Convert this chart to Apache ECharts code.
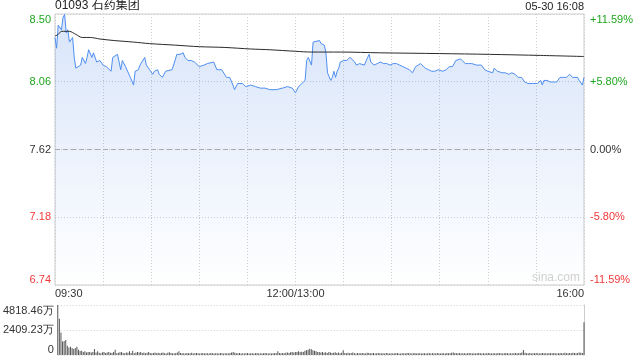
<!DOCTYPE html>
<html>
<head>
<meta charset="utf-8">
<script src="https://cdn.jsdelivr.net/npm/echarts@6/dist/echarts.min.js"></script>
<style>html,body{margin:0;padding:0;background:#fff;}#c{width:640px;height:360px;}</style>
</head>
<body>
<div id="c"></div>
<script>
// ---- data ----
var stockName = '01093 石药集团';
var stampText = '05-30 16:08';
var prevClose = 7.62;
var priceTicks = [6.737, 7.178, 7.62, 8.062, 8.503];
var pctTicks = [-11.59, -5.80, 0, 5.80, 11.59];
var timeLabels = {0: '09:30', 150: '12:00/13:00', 330: '16:00'};
// minute offsets from 09:30 (trading minutes) and prices
var priceMinutes = [0,1,2,4,5,6,7,8,9,11,12,13,16,17,19,20,21,23,24,26,28,30,32,35,36,39,40,41,42,44,47,49,50,52,53,56,57,59,61,62,64,65,67,69,70,73,74,76,78,80,81,83,85,87,90,93,95,99,101,104,107,109,111,112,114,117,119,122,125,128,131,134,138,142,145,148,150,152,154,156,157,158,160,161,162,165,166,167,168,169,170,171,172,173,174,175,176,177,178,180,182,184,187,188,190,193,195,196,197,199,201,203,205,207,209,211,213,215,217,219,221,223,225,226,228,231,233,235,237,239,240,242,244,246,248,250,253,254,256,258,260,261,263,266,268,270,273,274,276,279,281,283,285,287,289,291,293,295,298,299,301,303,304,305,307,309,311,313,315,317,319,321,323,326,327,329,330];
var prices = [8.35,8.28,8.43,8.40,8.48,8.50,8.38,8.40,8.32,8.35,8.22,8.15,8.17,8.22,8.18,8.22,8.27,8.22,8.25,8.19,8.20,8.17,8.16,8.13,8.22,8.24,8.24,8.14,8.20,8.16,8.09,8.04,8.13,8.14,8.17,8.22,8.17,8.14,8.11,8.13,8.14,8.11,8.09,8.13,8.13,8.14,8.17,8.24,8.24,8.25,8.22,8.20,8.20,8.19,8.16,8.17,8.18,8.19,8.14,8.14,8.09,8.09,8.04,8.01,8.05,8.05,8.03,8.04,8.03,8.02,8.02,8.01,8.01,8.02,8.03,8.02,7.99,8.03,8.05,8.07,8.20,8.22,8.17,8.32,8.31,8.33,8.31,8.32,8.30,8.25,8.12,8.11,8.07,8.09,8.13,8.09,8.13,8.15,8.19,8.20,8.20,8.22,8.19,8.17,8.18,8.17,8.22,8.24,8.19,8.17,8.18,8.19,8.18,8.18,8.17,8.18,8.18,8.17,8.16,8.15,8.14,8.12,8.16,8.16,8.18,8.15,8.14,8.13,8.13,8.14,8.15,8.13,8.14,8.16,8.16,8.20,8.21,8.22,8.18,8.18,8.18,8.18,8.17,8.17,8.14,8.13,8.12,8.15,8.13,8.12,8.12,8.11,8.12,8.11,8.09,8.09,8.06,8.05,8.05,8.05,8.05,8.07,8.04,8.07,8.07,8.06,8.06,8.06,8.09,8.09,8.09,8.11,8.09,8.09,8.07,8.04,8.09];
var avgMinutes = [0,2,4,7,9,13,17,22,28,37,49,59,75,90,106,122,134,150,160,178,203,240,271,303,330];
var avgPrices = [8.36,8.37,8.39,8.39,8.39,8.37,8.35,8.35,8.34,8.33,8.32,8.31,8.30,8.29,8.285,8.275,8.27,8.26,8.255,8.255,8.25,8.245,8.24,8.233,8.226];
var volumeTicks = [0, 2409.23, 4818.46];
// volume per minute (万), minute 0..330
var volumes = [
4818,3500,2170,1300,1350,1450,880,720,800,680,580,680,800,500,390,420,300,350,250,300,
280,230,300,580,250,350,220,180,260,300,200,250,300,220,200,300,500,180,220,260,
300,200,180,250,220,350,200,400,160,240,300,250,300,200,250,180,220,300,200,160,
200,250,180,220,160,200,240,180,150,220,260,200,180,150,200,240,350,200,180,160,
150,200,180,160,220,140,180,200,160,150,180,200,140,160,180,150,200,160,140,180,
160,150,200,180,140,160,180,150,200,250,300,220,180,160,200,150,180,140,160,200,
150,180,160,140,180,200,150,160,140,180,200,160,150,180,140,160,200,180,350,200,
160,200,180,220,250,200,260,300,250,280,
300,350,280,320,300,400,450,500,600,550,450,400,350,300,280,250,300,220,260,200,
300,250,200,220,260,200,240,180,220,450,200,180,220,160,200,240,180,150,200,180,
160,200,180,150,220,200,180,160,200,150,180,200,160,140,180,150,200,160,140,180,
150,180,160,200,150,140,180,160,150,200,180,160,140,180,200,150,160,180,140,160,
180,150,160,200,140,160,180,150,200,160,140,180,160,150,200,180,160,220,250,200,
180,160,200,150,180,160,140,180,200,160,150,180,140,160,200,180,150,160,140,180,
200,160,150,180,160,140,200,180,160,150,180,200,160,140,180,150,160,200,180,160,
200,250,480,220,180,160,200,150,180,160,200,180,150,160,200,180,160,150,200,180,
160,200,180,150,160,200,180,160,220,180,160,200,180,220,200,180,200,250,220,200,
3150];

// ---- build ----
var GREEN = '#1ea61e', RED = '#f03a3a', DARK = '#333';
var FONT = 'Liberation Sans, Arial, sans-serif';
var pricePairs = priceMinutes.map(function (m, i) { return [m, prices[i]]; });
var avgPairs = avgMinutes.map(function (m, i) { return [m, avgPrices[i]]; });
var volPairs = volumes.map(function (v, i) { return [i, v]; });

var chart = echarts.init(document.getElementById('c'), null, {renderer: 'canvas'});
var dotted = {show: true, lineStyle: {color: '#cfcfcf', type: [1, 2], width: 1}};
chart.setOption({
  animation: false,
  backgroundColor: '#fff',
  textStyle: {fontFamily: FONT},
  grid: [
    {left: 55, right: 56, top: 14, height: 271, show: true, borderColor: '#cccccc', borderWidth: 1, backgroundColor: 'transparent'},
    {left: 55, right: 56, top: 305, height: 50}
  ],
  xAxis: [
    {gridIndex: 0, type: 'value', min: 0, max: 330, interval: 30,
     axisLine: {show: false}, axisTick: {show: false},
     splitLine: dotted,
     axisLabel: {show: true, margin: 3, fontSize: 11, color: DARK, fontFamily: FONT,
       showMinLabel: true, showMaxLabel: true, alignMinLabel: 'left', alignMaxLabel: 'right',
       formatter: function (v) { return timeLabels[v] || ''; }}},
    {gridIndex: 1, type: 'value', min: 0, max: 330, show: true,
     axisLine: {show: false}, axisTick: {show: false}, axisLabel: {show: false}, splitLine: {show: false}}
  ],
  yAxis: [
    {gridIndex: 0, type: 'value', min: priceTicks[0], max: priceTicks[4], position: 'left',
     axisLine: {show: false}, axisTick: {show: false, customValues: priceTicks},
     splitLine: dotted,
     axisLabel: {customValues: priceTicks, margin: 4, fontSize: 11, fontFamily: FONT,
       verticalAlignMaxLabel: 'top', verticalAlignMinLabel: 'bottom',
       formatter: function (v) { return v.toFixed(2); },
       color: function (v) { v = +v; return v > prevClose + 0.005 ? GREEN : (v < prevClose - 0.005 ? RED : DARK); }}},
    {gridIndex: 0, type: 'value', min: pctTicks[0], max: pctTicks[4], position: 'right',
     axisLine: {show: false}, axisTick: {show: false, customValues: pctTicks}, splitLine: {show: false},
     axisLabel: {customValues: pctTicks, margin: 6, fontSize: 11, fontFamily: FONT,
       verticalAlignMaxLabel: 'top', verticalAlignMinLabel: 'bottom',
       formatter: function (v) { return (v > 0 ? '+' : '') + v.toFixed(2) + '%'; },
       color: function (v) { v = +v; return v > 0.001 ? GREEN : (v < -0.001 ? RED : DARK); }}},
    {gridIndex: 1, type: 'value', min: 0, max: volumeTicks[2], position: 'left',
     axisLine: {show: false}, axisTick: {show: false, customValues: volumeTicks},
     splitLine: dotted,
     axisLabel: {customValues: volumeTicks, margin: 4, fontSize: 11, color: DARK, fontFamily: FONT,
       verticalAlignMaxLabel: 'top', verticalAlignMinLabel: 'bottom',
       formatter: function (v) { return v === 0 ? '0' : v.toFixed(2) + '万'; }}},
    {gridIndex: 1, type: 'value', min: 0, max: volumeTicks[2], position: 'right',
     axisLine: {show: true, lineStyle: {color: '#cccccc'}}, axisTick: {show: false}, axisLabel: {show: false}, splitLine: {show: false}}
  ],
  series: [
    {type: 'line', xAxisIndex: 0, yAxisIndex: 0, data: pricePairs, showSymbol: false, symbol: 'none',
     lineStyle: {color: '#4f8ef0', width: 1}, z: 3,
     areaStyle: {origin: 'start', opacity: 1, color: new echarts.graphic.LinearGradient(0, 0, 0, 1, [
       {offset: 0, color: 'rgba(70,130,230,0.21)'}, {offset: 1, color: 'rgba(70,130,230,0.0)'}])},
     markLine: {silent: true, symbol: 'none', label: {show: false},
       lineStyle: {color: '#aaaaaa', type: [5, 3], width: 1},
       data: [{yAxis: prevClose}]}},
    {type: 'line', xAxisIndex: 0, yAxisIndex: 0, data: avgPairs, showSymbol: false, symbol: 'none', smooth: 0.3,
     lineStyle: {color: '#2a2a2a', width: 1}, z: 4},
    {type: 'bar', xAxisIndex: 1, yAxisIndex: 2, data: volPairs, barWidth: 1,
     itemStyle: {color: '#555555'}}
  ],
  graphic: [
    {type: 'text', left: 55, top: 0, style: {text: stockName, fontSize: 12, fill: '#222', fontFamily: 'Liberation Sans, Noto Sans CJK SC, sans-serif'}},
    {type: 'text', right: 56, top: 1, style: {text: stampText, fontSize: 11, fill: '#222', fontFamily: FONT}},
    {type: 'text', left: 532, top: 272, style: {text: 'sina.com', fontSize: 12, fill: '#d0d0d0', fontFamily: FONT}}
  ]
});
</script>
</body>
</html>
